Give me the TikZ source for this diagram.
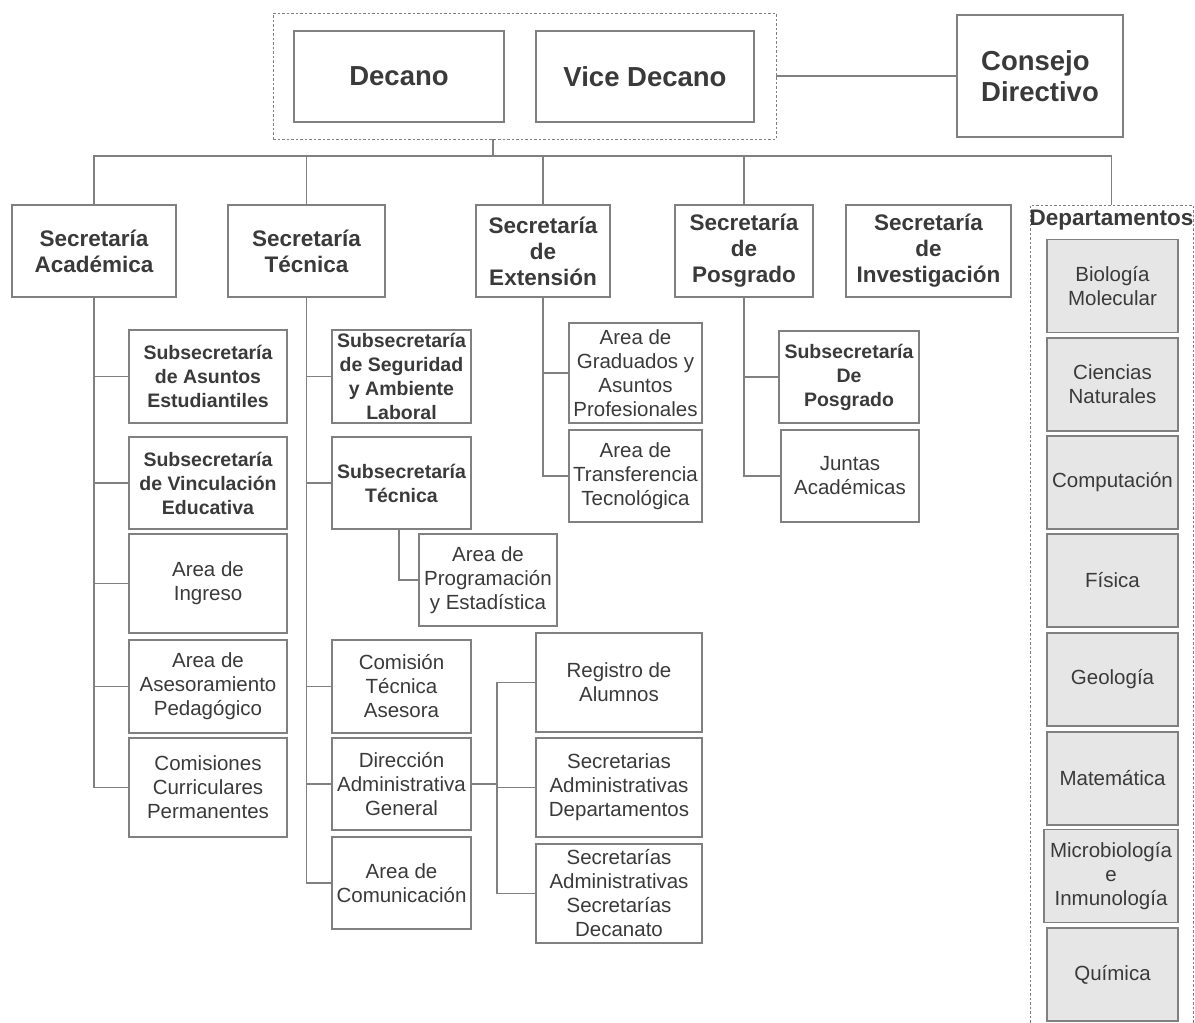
\documentclass[tikz,border=0pt]{standalone}
\usepackage{fontspec}
\setmainfont{Liberation Sans}
\definecolor{linea}{HTML}{808080}
\definecolor{texto}{HTML}{3A3A3A}
\definecolor{fondodpto}{HTML}{E6E6E6}
\begin{document}
\begin{tikzpicture}[x=1pt, y=-1pt,
  every node/.style={text=texto, align=center, inner sep=1pt},
  autoridad/.style={rectangle, draw=linea, line width=1.2pt, minimum height=91, font=\fontsize{27.5}{31}\selectfont\bfseries},
  secre/.style={rectangle, draw=linea, line width=1.2pt, minimum height=92, font=\fontsize{22.5}{26}\selectfont\bfseries},
  subsec/.style={rectangle, draw=linea, line width=1.2pt, font=\fontsize{19.5}{24}\selectfont\bfseries},
  area/.style={rectangle, draw=linea, line width=1.2pt, font=\fontsize{20.5}{24}\selectfont},
  dpto/.style={area, fill=fondodpto, minimum width=131, minimum height=93},
  grupo/.style={rectangle, draw=linea, line width=0.9pt, dash pattern=on 2.5pt off 2pt},
  conector/.style={draw=linea, line width=1.2pt}]
  \useasboundingbox (0,0) rectangle (1195,1023);

  \node[grupo, minimum width=503, minimum height=126] (jefes) at (524.5,76) {};
  \node[autoridad, minimum width=210] (decano) at (399,76.5) {Decano};
  \node[autoridad, minimum width=218] (vice) at (645,76.5) {Vice Decano};
  \node[autoridad, minimum width=166, minimum height=122, align=left] (consejo) at (1040,76) {Consejo\\Directivo};

  \node[secre, minimum width=164] (sacad) at (94,251) {Secretaría\\Académica};
  \node[secre, minimum width=157] (stec) at (306.5,251) {Secretaría\\Técnica};
  \node[secre, minimum width=134] (sext) at (543,251) {Secretaría\\de\\Extensión};
  \node[secre, minimum width=138] (spos) at (744,251) {Secretaría\\de\\Posgrado};
  \node[secre, minimum width=165] (sinv) at (928.5,251) {Secretaría\\de\\Investigación};
  \node[grupo, minimum width=163, minimum height=830, anchor=north] (deptos) at (1111.5,205) {};
  \node[font=\fontsize{22.5}{26}\selectfont\bfseries] (deptitulo) at (1111.5,220) {Departamentos};

  \node[subsec, minimum width=158, minimum height=93] (asuntos) at (208,376.5) {Subsecretaría\\de Asuntos\\Estudiantiles};
  \node[subsec, minimum width=158, minimum height=92] (vinculo) at (208,483) {Subsecretaría\\de Vinculación\\Educativa};
  \node[area, minimum width=158, minimum height=99] (ingreso) at (208,583.5) {Area de\\Ingreso};
  \node[area, minimum width=158, minimum height=93] (asesor) at (208,686.5) {Area de\\Asesoramiento\\Pedagógico};
  \node[area, minimum width=158, minimum height=99] (curric) at (208,787.5) {Comisiones\\Curriculares\\Permanentes};

  \node[subsec, minimum width=139, minimum height=93] (segur) at (401.5,376.5) {Subsecretaría\\de Seguridad\\y Ambiente\\Laboral};
  \node[subsec, minimum width=139, minimum height=92] (subtec) at (401.5,483) {Subsecretaría\\Técnica};
  \node[area, minimum width=138, minimum height=92] (progr) at (488,580) {Area de\\Programación\\y Estadística};
  \node[area, minimum width=139, minimum height=93] (comtec) at (401.5,686.5) {Comisión\\Técnica\\Asesora};
  \node[area, minimum width=139, minimum height=92] (direc) at (401.5,784) {Dirección\\Administrativa\\General};
  \node[area, minimum width=139, minimum height=92] (comun) at (401.5,883) {Area de\\Comunicación};

  \node[area, minimum width=166, minimum height=99] (regis) at (619,682.5) {Registro de\\Alumnos};
  \node[area, minimum width=166, minimum height=99] (sadep) at (619,787.5) {Secretarias\\Administrativas\\Departamentos};
  \node[area, minimum width=166, minimum height=99] (sadec) at (619,893.5) {Secretarías\\Administrativas\\Secretarías\\Decanato};

  \node[area, minimum width=133, minimum height=100] (gradu) at (635.5,373) {Area de\\Graduados y\\Asuntos\\Profesionales};
  \node[area, minimum width=133, minimum height=92] (transf) at (635.5,476) {Area de\\Transferencia\\Tecnológica};

  \node[subsec, minimum width=140, minimum height=92] (subpos) at (849,377) {Subsecretaría\\De\\Posgrado};
  \node[area, minimum width=138, minimum height=92] (juntas) at (850,476) {Juntas\\Académicas};

  \node[dpto] (biolo) at (1112.5,286) {Biología\\Molecular};
  \node[dpto] (cienc) at (1112.5,384.5) {Ciencias\\Naturales};
  \node[dpto] (compu) at (1112.5,482.5) {Computación};
  \node[dpto] (fisic) at (1112.5,580.5) {Física};
  \node[dpto] (geolo) at (1112.5,679.5) {Geología};
  \node[dpto] (matem) at (1112.5,778.5) {Matemática};
  \node[dpto, minimum width=134] (micro) at (1111,876) {Microbiología\\e\\Inmunología};
  \node[dpto] (quimi) at (1112.5,974.5) {Química};

  \coordinate (bus) at (493,156);
  \coordinate (dirbus) at (497,784);

  \draw[conector] (jefes.east) -- (consejo.west);
  \draw[conector] (jefes.south -| bus) -- (bus);
  \draw[conector] (sacad.north) |- (bus) -| (deptos.north);
  \draw[conector] (stec.north) -- (stec.north |- bus);
  \draw[conector] (sext.north) -- (sext.north |- bus);
  \draw[conector] (spos.north) -- (spos.north |- bus);

  \draw[conector] (sacad.south) |- (asuntos.west);
  \draw[conector] (sacad.south) |- (vinculo.west);
  \draw[conector] (sacad.south) |- (ingreso.west);
  \draw[conector] (sacad.south) |- (asesor.west);
  \draw[conector] (sacad.south) |- (curric.west);

  \draw[conector] (stec.south) |- (segur.west);
  \draw[conector] (stec.south) |- (subtec.west);
  \draw[conector] (stec.south) |- (comtec.west);
  \draw[conector] (stec.south) |- (direc.west);
  \draw[conector] (stec.south) |- (comun.west);
  \draw[conector] ([xshift=-2.5pt]subtec.south) |- (progr.west);

  \draw[conector] (direc.east) -- (dirbus);
  \draw[conector] (dirbus) |- (regis.west);
  \draw[conector] (dirbus) |- (sadep.west);
  \draw[conector] (dirbus) |- (sadec.west);

  \draw[conector] (sext.south) |- (gradu.west);
  \draw[conector] (sext.south) |- (transf.west);

  \draw[conector] (spos.south) |- (subpos.west);
  \draw[conector] (spos.south) |- (juntas.west);
\end{tikzpicture}
\end{document}
